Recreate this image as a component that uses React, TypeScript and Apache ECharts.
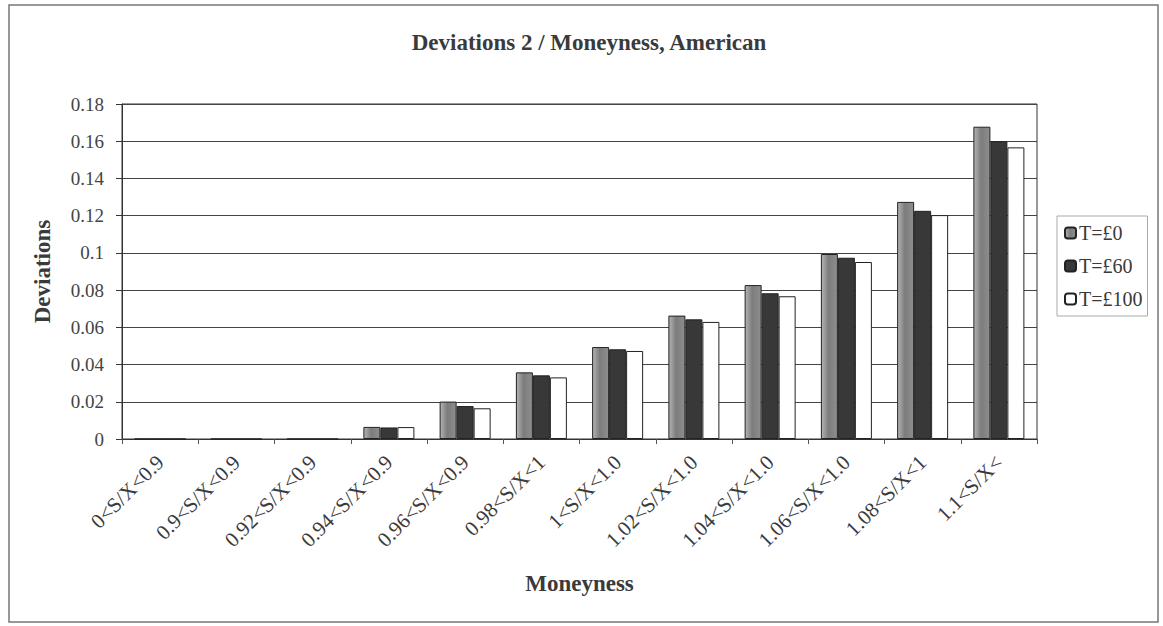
import React, { useEffect, useRef } from "react";
import * as echarts from "echarts";

// Moneyness buckets (labels as printed, clipped by the axis)
const categories = [
  "0<S/X<0.9",
  "0.9<S/X<0.9",
  "0.92<S/X<0.9",
  "0.94<S/X<0.9",
  "0.96<S/X<0.9",
  "0.98<S/X<1",
  "1<S/X<1.0",
  "1.02<S/X<1.0",
  "1.04<S/X<1.0",
  "1.06<S/X<1.0",
  "1.08<S/X<1",
  "1.1<S/X<",
];

const t0 = [0, 0, 0, 0.0065, 0.0201, 0.0358, 0.0494, 0.0663, 0.0827, 0.0994, 0.1274, 0.1678];
const t60 = [0, 0, 0, 0.0062, 0.0177, 0.0342, 0.0482, 0.0643, 0.0783, 0.0974, 0.1226, 0.16];
const t100 = [0, 0, 0, 0.0064, 0.0165, 0.0331, 0.0473, 0.0629, 0.0767, 0.0951, 0.1203, 0.1567];

const seriesNames = ["T=£0", "T=£60", "T=£100"];
const yTicks = { min: 0, max: 0.18, interval: 0.02 };

const SERIF = "'Liberation Serif', 'DejaVu Serif', serif";

export default function App() {
  const ref = useRef<HTMLDivElement>(null);

  useEffect(() => {
    document.body.style.margin = "0";
    if (!ref.current) return;
    const chart = echarts.init(ref.current, null, { renderer: "svg" });

    const grayFill = new echarts.graphic.LinearGradient(0, 0, 1, 0, [
      { offset: 0, color: "#b4b4b4" },
      { offset: 0.45, color: "#7c7c7c" },
      { offset: 1, color: "#8e8e8e" },
    ]);

    const barBase = {
      type: "bar" as const,
      barWidth: 17,
      barGap: "0%",
      emphasis: { disabled: true },
    };

    chart.setOption({
      animation: false,
      backgroundColor: "#ffffff",
      title: {
        text: "Deviations 2 / Moneyness, American",
        left: 584,
        textAlign: "center",
        top: 26,
        textStyle: {
          fontFamily: SERIF,
          fontSize: 23,
          fontWeight: "bold",
          color: "#3a3a3a",
        },
      },
      graphic: [
        {
          type: "rect",
          shape: { x: 9, y: 5, width: 1149, height: 617 },
          style: { fill: "none", stroke: "#777", lineWidth: 1.5 },
          silent: true,
        },
      ],
      legend: {
        orient: "vertical",
        left: 1057,
        top: 216,
        padding: [7, 5, 7, 7],
        itemGap: 13,
        itemWidth: 11,
        itemHeight: 11,
        borderColor: "#aaa",
        borderWidth: 1,
        data: seriesNames,
        textStyle: { fontFamily: SERIF, fontSize: 20, color: "#3a3a3a", padding: [0, 0, 0, -2] },
      },
      grid: {
        left: 122,
        top: 104,
        width: 915,
        height: 335,
        show: true,
        borderColor: "#333",
        borderWidth: 1,
        backgroundColor: "transparent",
      },
      xAxis: {
        type: "category",
        data: categories,
        name: "Moneyness",
        nameLocation: "middle",
        nameGap: 133,
        nameTextStyle: { fontFamily: SERIF, fontSize: 23, fontWeight: "bold", color: "#3a3a3a" },
        axisLine: { lineStyle: { color: "#333", width: 1 } },
        axisTick: { show: true, length: 5, lineStyle: { color: "#555" } },
        axisLabel: {
          interval: 0,
          rotate: 45,
          margin: 20,
          fontFamily: SERIF,
          fontSize: 21,
          color: "#3a3a3a",
        },
      },
      yAxis: {
        type: "value",
        min: yTicks.min,
        max: yTicks.max,
        interval: yTicks.interval,
        name: "Deviations",
        nameLocation: "middle",
        nameGap: 68,
        nameRotate: 90,
        nameTextStyle: { fontFamily: SERIF, fontSize: 23, fontWeight: "bold", color: "#3a3a3a" },
        axisLine: { show: true, lineStyle: { color: "#333" } },
        axisTick: { show: true, length: 6, lineStyle: { color: "#333" } },
        axisLabel: {
          margin: 18,
          fontFamily: SERIF,
          fontSize: 19,
          color: "#444",
          formatter: (v: number) => String(Math.round(v * 100) / 100),
        },
        splitLine: { show: true, lineStyle: { color: "#444", width: 1 } },
      },
      series: [
        {
          ...barBase,
          name: seriesNames[0],
          data: t0,
          itemStyle: { color: grayFill, borderColor: "#222", borderWidth: 1 },
        },
        {
          ...barBase,
          name: seriesNames[1],
          data: t60,
          itemStyle: { color: "#383838", borderColor: "#222", borderWidth: 1 },
        },
        {
          ...barBase,
          name: seriesNames[2],
          data: t100,
          itemStyle: { color: "#ffffff", borderColor: "#222", borderWidth: 1 },
        },
      ],
    });

    return () => chart.dispose();
  }, []);

  return <div ref={ref} style={{ width: 1163, height: 626 }} />;
}
